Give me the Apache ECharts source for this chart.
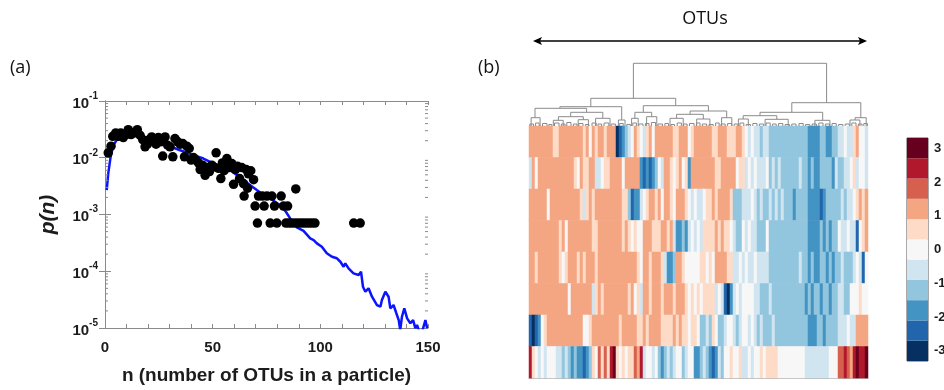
<!DOCTYPE html>
<html><head><meta charset="utf-8">
<script src="https://cdn.jsdelivr.net/npm/echarts@6/dist/echarts.min.js"></script>
<style>html,body{margin:0;padding:0;background:#fff}#c{width:944px;height:390px}</style>
</head><body><div id="c"></div>
<script>
// ---------- panel (a) data ----------
const scatterN = [1.5,2.8,3.6,5.0,6.2,7.3,8.5,9.8,10.8,12.1,13.5,15.0,16.3,17.5,18.6,19.7,20.6,21.7,22.8,23.7,24.8,25.9,26.8,27.9,29.1,30.2,31.5,32.5,33.8,34.9,36.1,36.9,38.0,39.1,40.0,41.1,42.2,43.4,44.2,45.3,46.5,47.3,48.5,49.6,50.5,51.6,52.7,53.8,54.5,55.3,56.6,57.6,58.9,59.7,60.6,61.5,62.5,63.5,64.3,64.6,65.6,66.2,66.6,67.7,69.0,
  69.7,70.8,71.3,73.1,73.9,75.2,76.7,77.5,78.7,79.8,81.8,82.9,84.0,84.8,85.5,87.0,88.5,88.6,90.0,91.5,93.0,94.5,96.0,97.5,115.5,118.5];
const scatterP = [0.0122,0.0160,0.0239,0.0274,0.0239,0.0274,0.0227,0.0256,0.0313,0.0256,0.0278,0.0313,0.0249,0.0209,0.0156,0.0173,0.0209,0.0233,0.0204,0.0173,0.0227,0.0191,0.0107,0.0233,0.0166,0.0156,0.0104,0.0218,0.0191,0.0173,0.0178,0.0104,0.0160,0.0146,0.0091,0.0101,0.0091,0.0081,0.0062,0.0074,0.0049,0.0067,0.0057,0.0074,0.0069,0.0122,0.0065,0.0043,0.0081,0.0059,0.0097,0.0067,0.0079,0.0034,0.0062,0.0071,0.0043,0.0067,0.0035,0.00211,0.0062,0.0029,0.0052,0.0059,0.0041,
  0.00141,0.000705,0.00211,0.00211,0.00141,0.00211,0.000705,0.00211,0.00141,0.000705,0.00211,0.00141,0.000705,0.00141,0.000705,0.000705,0.000705,0.00282,0.000705,0.000705,0.000705,0.000705,0.000705,0.000705,0.000705,0.000705];
const lineN = [0.8,1.5,2.6,3.9,5.4,7,10,15,20,25,28.7,34.9,41.1,45.7,51.9,58.1,63.5,67,70.5,73,76.7,81.4,84,86.5,89.1,92.2,95.3,96.9,98.4,100.7,103,105.4,107.7,109.3,110.8,111.6,113.1,115.4,117.8,118.9,119.8,120.9,122.4,124,126.3,127.9,128.6,130.2,131.7,132.5,134,135.3,136.4,137.1,137.9,139,140.3,141.8,143.1,144.1,144.9,145.7,147,148.8,149.6];
const lineP = [0.00269,0.00525,0.01035,0.0166,0.0204,0.0224,0.0240,0.0240,0.0204,0.0182,0.0166,0.01355,0.0111,0.00968,0.0074,0.00603,0.00431,0.00339,0.00269,0.00229,0.00191,0.00146,0.00112,0.000794,0.000592,0.000515,0.000379,0.000354,0.00031,0.00027,0.000207,0.00018,0.000169,0.000147,0.00012,0.000138,0.000112,0.0000918,0.0000857,0.000098,0.0000533,0.0000436,0.00005,0.0000356,0.0000254,0.0000237,0.0000311,0.0000436,0.0000356,0.0000222,0.0000254,0.0000182,0.0000138,0.0000092,0.0000158,0.0000222,0.0000148,0.0000121,0.0000138,0.0000099,0.0000113,0.0000092,0.0000079,0.0000138,0.0000099];
const xLabelValues = [0,50,100,150];
const xTitle = 'n (number of OTUs in a particle)';
const yTitle = 'p(n)';

// ---------- panel (b) data: colour level per OTU column (level*0.6 = z) ----------
const heatRow1 = [2,2,2,2,2,2,2,2,1,1,2,2,2,2,2,2,2,2,1,2,0,2,1,2,2,1,2,2,2,-5,-4,-3,-2,-1,0,2,1,
  0,-1,1,2,0,2,2,2,2,2,2,1,1,2,2,2,0,1,2,2,2,2,2,2,1,1,2,2,2,1,1,1,2,2,1,0,-1,0,
  -1,-1,-2,-1,-1,-2,-2,-2,-2,-2,-2,-2,-2,-2,-2,-2,-2,-2,-3,-3,-3,-3,-2,-2,-3,-3,-2,-2,-1,-1,0,-1,-1,1,2,0,0,-1];
const heatRow2 = [-1,2,0,2,2,2,2,2,2,2,2,2,2,2,2,1,0,2,1,1,2,2,-1,-1,0,1,1,2,2,2,2,0,2,2,2,2,2,
  -3,-4,-3,-4,-3,-2,0,-1,2,2,1,0,1,2,0,1,-3,2,2,2,2,2,2,2,2,1,1,2,2,2,2,2,0,1,1,-1,0,-1,
  0,-1,-1,-1,0,-2,-1,-2,-1,-2,-2,-2,-2,-2,-2,-1,-2,-2,-3,-2,-3,-3,-2,-2,-2,-2,-3,-1,-2,-2,-1,-1,0,1,-1,0,0,-1];
const heatRow3 = [2,2,2,2,2,2,0,2,2,2,2,2,2,2,2,2,2,1,-1,1,2,1,2,2,2,2,2,2,2,2,2,1,1,-2,-4,-3,-3,
  -1,0,1,2,2,1,2,0,2,2,1,0,2,2,2,1,0,-1,0,-1,-1,0,1,1,2,1,2,2,2,2,1,-2,-2,-2,-1,-1,-1,0,
  -1,-2,-1,-2,-2,-1,-2,-1,-2,-1,-2,-2,-2,-3,-2,-2,-2,-2,-3,-3,-3,-3,-4,-3,-2,-2,-2,-2,-2,-1,-2,-1,-1,0,1,2,1,2];
const heatRow4 = [2,2,2,2,2,2,2,2,2,2,1,2,0,2,2,2,2,2,2,2,2,1,1,2,2,2,2,2,2,2,2,1,2,1,0,1,0,
  0,2,2,2,1,1,1,2,2,1,2,-1,-3,-3,-2,-3,-1,0,-1,0,-1,1,1,1,1,2,1,2,1,1,0,-1,-2,-2,0,-1,0,-1,
  -1,-2,-2,-2,0,-2,-2,-2,-2,-2,-2,-2,-2,-2,-2,-2,-2,-2,-3,-3,-3,-3,-2,-3,-2,-3,-2,-2,0,-1,-1,0,-1,-1,-4,0,1,2];
const heatRow5 = [2,2,1,2,2,2,2,2,2,2,1,0,1,2,2,2,1,2,1,2,2,2,1,2,2,2,2,2,2,2,2,2,2,2,2,2,1,
  0,2,2,1,2,2,2,1,-1,-3,-3,-2,2,2,1,0,0,0,0,0,1,1,0,1,0,2,2,2,2,1,1,-1,-1,0,-1,0,-1,-1,
  0,-1,-1,-1,-1,-2,-2,-2,-2,-2,-2,-2,-2,-2,-2,-1,-2,-2,-3,-2,-3,-3,-2,-2,-3,-2,-3,-2,-2,-1,-2,-2,-2,-1,0,-1,-4,0];
const heatRow6 = [2,2,2,2,2,2,2,2,2,2,2,2,2,0,2,2,2,2,2,2,2,-1,1,2,1,2,2,2,2,2,2,2,2,1,2,0,1,
  -1,2,2,1,2,2,2,1,2,2,2,1,2,2,2,1,0,1,0,1,0,1,1,1,1,-1,0,-1,-4,-5,-3,-1,0,-1,0,0,0,0,
  -1,-1,-2,-2,-2,-1,-2,-2,-2,-2,-2,-2,-2,-2,-2,-2,-2,-3,-2,-3,-2,-2,-3,-2,-2,-3,-2,-2,-1,-1,-2,-2,0,0,0,1,0,0];
const heatRow7 = [-4,-5,-4,-3,0,1,2,2,2,2,2,2,2,2,2,2,2,2,0,0,1,2,2,2,2,2,2,2,2,2,1,2,2,2,2,2,1,
  1,2,1,2,2,2,2,1,1,1,1,2,1,2,1,1,0,1,1,0,-2,-2,-1,-2,1,0,-2,-2,-1,0,0,-1,-2,-1,0,0,-1,0,
  -1,-2,-1,-2,-2,-2,-1,-2,-2,-2,-2,-2,-2,-2,-2,-2,-2,-2,-3,-3,-3,-2,-2,-3,-2,-2,-2,-2,-1,-1,-1,0,-1,-1,2,2,2,2];
const heatRow8 = [4,1,0,-1,0,-1,0,0,0,-1,-1,-2,-1,-2,-3,-2,-3,-3,-4,-3,-2,1,0,3,1,3,1,4,5,1,0,1,0,1,1,3,2,
  4,-1,0,0,-1,0,-2,-3,-2,-1,-2,-1,0,0,-2,-1,0,0,-3,-3,-2,-1,-2,-3,-4,-3,-1,-2,0,0,1,0,0,1,-1,-1,0,-1,
  0,0,1,0,1,1,1,1,0,0,0,0,0,0,0,0,0,-1,-1,-1,-1,-1,-1,-1,-1,0,0,0,3,3,4,3,2,4,5,4,4,5];
const colourLevels = [-5,-4,-3,-2,-1,0,1,2,3,4,5];
const levelColours = ['#053061','#2166ac','#4393c3','#92c5de','#d1e5f0','#f7f7f7','#fddbc7','#f4a582','#d6604d','#b2182b','#67001f'];
const colourbarTicks = [-3,-2,-1,0,1,2,3];
// dendrogram links: [left x, right x, merge height, left child height, right child height] (x in OTU columns)
const dendroLinks = [
  [34.8,99.2,62.7,27.7,23.3],[20.6,48.9,27.7,19.3,20.3],[87.6,110.6,23.3,13.7,8.3],
  [10.3,30.9,19.3,17.7,6],[38.1,59.8,20.3,13.7,15],[2.0,19.2,17.7,8.3,13.7],[29.8,32.0,6,0,0],
  [0.7,3.7,8.3,0,0],[13.9,24.6,13.7,9.3,7.7],[9.8,18.1,9.3,5.7,6.3],[22.2,27.0,7.7,0,0],
  [8.1,11.4,5.7,0,0],[16.4,19.8,6.3,0,0],[35.3,40.9,13.7,7.7,9.3],[34.2,36.4,7.7,0,0],
  [39.2,42.6,9.3,0,0],[53.7,65.9,15,11.7,8.3],[49.2,58.1,11.7,7.7,7],[47.0,51.4,7.7,0,0],
  [55.9,60.3,7,0,0],[64.2,67.6,8.3,0,0],[77.0,97.9,13.7,10.3,5.7],[71.4,82.6,10.3,7,6.7],
  [69.8,73.1,7,0,0],[78.7,86.4,6.7,0,0],[95.3,100.3,5.7,0,0],[108.7,112.4,8.3,6,0],[107.0,110.3,6,0,0]];
const leafLinks = [[0.3,1.5,2],[2.2,3.4,3],[4.5,6,2.5],[6.6,7.6,1.5],[8.5,10,3],[10.8,12,2],[12.6,14,3.5],[14.8,16,2],[16.6,18,2.5],[18.8,20,1.5],[21,22.4,3],[23,24.2,2],[25,26.6,3],[27.4,28.8,2],[30.2,31.4,2.5],[32.6,33.8,1.5],[34.6,35.8,3],[36.6,38,2],[38.8,40,2.5],[40.8,42.2,3.5],[43,44.5,2],[45.3,46.5,2.5],[47.3,48.5,1.5],[49.4,50.8,3],[51.5,52.7,2],[53.5,55,2.5],[55.8,57,3],[57.8,59.2,2],[60,61.4,1.5],[62.2,63.4,3],[64,65.4,2],[66.2,67.6,2.5],[68.4,69.6,2],[70.3,71.6,3],[72.4,73.8,1.5],[74.6,76,2.5],[76.8,78.2,2],[79,80.4,3],[81.2,82.4,2],[83.2,84.6,2.5],[85.4,86.8,1.5],[87.6,89,2],[90,91.4,2.5],[92.2,93.6,1.5],[94.4,95.8,2],[96.6,98,3],[98.8,100.2,2],[101,102.4,2.5],[103.2,104.6,1.5],[105.4,106.8,2],[107.6,109,3],[109.8,111,2],[111.6,112.8,2.5]];

// ---------- build ----------
const FONT = '"Liberation Sans", Arial, sans-serif';
const TXT = '#1c1c1c', AX = '#8a8a8a';
const heatRows = [heatRow1,heatRow2,heatRow3,heatRow4,heatRow5,heatRow6,heatRow7,heatRow8];
const nCols = heatRow1.length;
const heatData = [];
heatRows.forEach((row, r) => row.forEach((lv, c) => heatData.push([c, r, lv])));
const minorVals = [];
for (let e = -5; e < -1; e++) for (let k = 2; k <= 9; k++) minorVals.push([0, k * Math.pow(10, e)]);

const chart = echarts.init(document.getElementById('c'), null, {renderer: 'canvas'});
chart.setOption({
  animation: false,
  backgroundColor: '#fff',
  grid: [
    {left: 105, top: 101, width: 323, height: 227, containLabel: false, outerBoundsMode: 'none'},
    {left: 529, top: 126, width: 339, height: 252, containLabel: false, outerBoundsMode: 'none'},
    {left: 529, top: 60, width: 339, height: 66, containLabel: false, outerBoundsMode: 'none'},
    {left: 907, top: 138, width: 21, height: 223, containLabel: false, outerBoundsMode: 'none', show: true, borderColor: '#555', borderWidth: 1, backgroundColor: 'transparent'}
  ],
  xAxis: [
    {gridIndex: 0, type: 'value', min: 0, max: 150, interval: 10, position: 'bottom',
     axisLine: {show: true, lineStyle: {color: AX, width: 1}},
     axisTick: {show: true, inside: true, length: 4, lineStyle: {color: AX}},
     axisLabel: {formatter: v => xLabelValues.includes(v) ? String(v) : '', fontSize: 15, fontWeight: 'bold', color: TXT, fontFamily: FONT, margin: 12},
     splitLine: {show: false},
     name: xTitle, nameLocation: 'middle', nameGap: 38,
     nameTextStyle: {fontSize: 19, fontWeight: 'bold', color: TXT, fontFamily: FONT}},
    {gridIndex: 0, type: 'value', min: 0, max: 150, interval: 10, position: 'top',
     axisLine: {show: true, lineStyle: {color: AX}}, axisTick: {show: true, inside: true, length: 4, lineStyle: {color: AX}},
     axisLabel: {show: false}, splitLine: {show: false}},
    {gridIndex: 1, type: 'category', data: heatRow1.map((_, i) => i), show: true,
     axisLine: {show: true, lineStyle: {color: '#b5b5b5'}}, axisTick: {show: false}, axisLabel: {show: false}, splitLine: {show: false}},
    {gridIndex: 2, type: 'value', min: 0, max: nCols, show: false},
    {gridIndex: 3, type: 'value', min: 0, max: 1, show: false}
  ],
  yAxis: [
    {gridIndex: 0, type: 'log', logBase: 10, min: 1e-5, max: 1e-1, position: 'left',
     axisLine: {show: true, lineStyle: {color: AX}},
     axisTick: {show: true, inside: true, length: 6, lineStyle: {color: AX}},
     splitLine: {show: false},
     axisLabel: {margin: 7, color: TXT, fontFamily: FONT,
       formatter: v => '{b|10}{s|' + Math.round(Math.log10(v)) + '}',
       rich: {b: {fontSize: 15, fontWeight: 'bold', color: TXT, fontFamily: FONT, lineHeight: 20, verticalAlign: 'bottom'},
              s: {fontSize: 10, fontWeight: 'bold', color: TXT, fontFamily: FONT, lineHeight: 10, verticalAlign: 'top'}}},
     name: yTitle, nameLocation: 'middle', nameGap: 46, nameRotate: 90,
     nameTextStyle: {fontSize: 21, fontWeight: 'bold', fontStyle: 'italic', color: TXT, fontFamily: FONT}},
    {gridIndex: 0, type: 'log', logBase: 10, min: 1e-5, max: 1e-1, position: 'right',
     axisLine: {show: true, lineStyle: {color: AX}}, axisTick: {show: true, inside: true, length: 6, lineStyle: {color: AX}},
     axisLabel: {show: false}, splitLine: {show: false}},
    {gridIndex: 1, type: 'category', data: heatRows.map((_, i) => i), inverse: true,
     axisLine: {show: true, lineStyle: {color: '#9a9a9a'}}, axisTick: {show: false}, axisLabel: {show: false}, splitLine: {show: false}},
    {gridIndex: 2, type: 'value', min: 0, max: 66, show: false},
    {gridIndex: 3, type: 'value', min: -3.3, max: 3.3, position: 'right',
     axisLine: {show: false}, axisTick: {show: false}, splitLine: {show: false},
     axisLabel: {customValues: colourbarTicks, margin: 6, align: 'left', fontSize: 13, fontWeight: 'bold', color: TXT, fontFamily: FONT}}
  ],
  visualMap: [{type: 'piecewise', show: false, seriesIndex: 3, dimension: 2,
    pieces: colourLevels.map((l, i) => ({value: l, color: levelColours[i]}))}],
  series: [
    {type: 'line', xAxisIndex: 0, yAxisIndex: 0, data: lineN.map((n, i) => [n, lineP[i]]),
     showSymbol: false, lineStyle: {color: '#0a14ff', width: 2.5}, clip: true, z: 2},
    {type: 'scatter', xAxisIndex: 0, yAxisIndex: 0, data: scatterN.map((n, i) => [n, scatterP[i]]),
     symbolSize: 9.5, itemStyle: {color: '#000', opacity: 1}, z: 3},
    {type: 'custom', xAxisIndex: 0, yAxisIndex: 0, data: minorVals, z: 4,
     renderItem: (params, api) => {
       const a = api.coord([0, api.value(1)]), b = api.coord([150, api.value(1)]);
       return {type: 'group', children: [
         {type: 'line', shape: {x1: a[0], y1: a[1], x2: a[0] + 3, y2: a[1]}, style: {stroke: AX, lineWidth: 1}},
         {type: 'line', shape: {x1: b[0] - 3, y1: b[1], x2: b[0], y2: b[1]}, style: {stroke: AX, lineWidth: 1}}]};
     }},
    {type: 'heatmap', xAxisIndex: 2, yAxisIndex: 2, data: heatData, itemStyle: {borderWidth: 0}},
    {type: 'custom', xAxisIndex: 3, yAxisIndex: 3,
     data: dendroLinks.concat(leafLinks.map(l => [l[0], l[1], l[2], 0, 0])),
     renderItem: (params, api) => {
       const xl = api.value(0), xr = api.value(1), h = api.value(2), hl = api.value(3), hr = api.value(4);
       const pts = [api.coord([xl, hl]), api.coord([xl, h]), api.coord([xr, h]), api.coord([xr, hr])];
       return {type: 'polyline', shape: {points: pts}, style: {stroke: '#8a8a8a', lineWidth: 1, fill: null}};
     }},
    {type: 'custom', xAxisIndex: 4, yAxisIndex: 4,
     data: colourLevels.map(l => [l * 0.6 - 0.3, l * 0.6 + 0.3, l]),
     renderItem: (params, api) => {
       const lo = api.coord([0, api.value(0)]), hi = api.coord([1, api.value(1)]);
       return {type: 'rect', shape: {x: lo[0], y: hi[1], width: hi[0] - lo[0], height: lo[1] - hi[1]},
               style: {fill: levelColours[api.value(2) + 5]}};
     }}
  ],
  graphic: [
    {type: 'text', x: 10, y: 68, style: {text: '(a)', fontSize: 18, fontFamily: '"Open Sans", sans-serif', fill: '#111', verticalAlign: 'middle'}},
    {type: 'text', x: 478, y: 68, style: {text: '(b)', fontSize: 18, fontFamily: '"Open Sans", sans-serif', fill: '#111', verticalAlign: 'middle'}},
    {type: 'text', x: 705, y: 19, style: {text: 'OTUs', fontSize: 18, fontFamily: '"Open Sans", sans-serif', fill: '#111', align: 'center', verticalAlign: 'middle'}},
    {type: 'line', shape: {x1: 538, y1: 41, x2: 862, y2: 41}, style: {stroke: '#000', lineWidth: 1.5}},
    {type: 'polygon', shape: {points: [[533, 41], [542, 37], [540, 41], [542, 45]]}, style: {fill: '#000'}},
    {type: 'polygon', shape: {points: [[867, 41], [858, 37], [860, 41], [858, 45]]}, style: {fill: '#000'}}
  ]
});
</script></body></html>
